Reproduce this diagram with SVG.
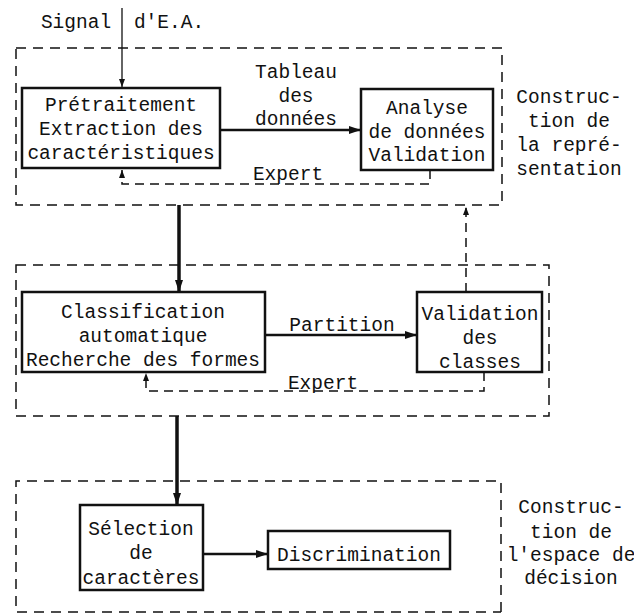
<svg xmlns="http://www.w3.org/2000/svg" width="634" height="615" viewBox="0 0 634 615">
<style>
text{font-family:"Liberation Mono","Courier New",monospace;font-size:19.5px;fill:#111;text-anchor:middle}
.box{fill:none;stroke:#111;stroke-width:2.5}
.grp{fill:none;stroke:#111;stroke-width:1.5;stroke-dasharray:10 7}
.fb{fill:none;stroke:#111;stroke-width:1.5;stroke-dasharray:9 6}
.thin{fill:none;stroke:#111;stroke-width:1.3}
.thick{fill:none;stroke:#111;stroke-width:2.5}
.vthick{fill:none;stroke:#111;stroke-width:3.5}
</style>
<defs>
<marker id="ah" markerWidth="12" markerHeight="8" refX="11" refY="4" orient="auto" markerUnits="userSpaceOnUse"><path d="M0,0 L12,4 L0,8 Z" fill="#111"/></marker>
<marker id="as" markerWidth="8" markerHeight="8" refX="8" refY="3" orient="auto" markerUnits="userSpaceOnUse"><path d="M0,0 L8,3 L0,6 Z" fill="#111"/></marker>
</defs>
<g id="groups">
<rect class="grp" x="16" y="48" width="486" height="157"/>
<rect class="grp" x="16" y="265" width="533" height="151"/>
<path class="grp" d="M501,612 L501,481 L16,481 L16,612 L501,612"/>
</g>
<g id="labels">
<text x="76" y="28">Signal</text>
<text x="169" y="28">d'E.A.</text>
<text x="296" y="78">Tableau</text>
<text x="296" y="102">des</text>
<text x="296" y="125">données</text>
<text x="288" y="180">Expert</text>
<text x="569" y="103">Construc-</text>
<text x="569" y="127">tion de</text>
<text x="569" y="151">la repré-</text>
<text x="569" y="175">sentation</text>
<text x="342" y="331">Partition</text>
<text x="323" y="389">Expert</text>
<text x="571" y="513">Construc-</text>
<text x="571" y="538">tion de</text>
<text x="571" y="561">l'espace de</text>
<text x="571" y="584">décision</text>
</g>
<g id="connectors">
<path class="thin" d="M122,8 L122,87" marker-end="url(#as)"/>
<path class="thick" d="M220,130 L360,130" marker-end="url(#ah)"/>
<path class="fb" d="M430,170 L430,184 L122,184 L122,170" marker-end="url(#as)"/>
<path class="vthick" d="M179,205 L179,291" marker-end="url(#ah)"/>
<path class="thick" d="M265,335 L416,335" marker-end="url(#ah)"/>
<path class="fb" d="M484,372 L484,391 L146,391 L146,373" marker-end="url(#as)"/>
<path class="fb" d="M466,292 L466,207" marker-end="url(#as)"/>
<path class="vthick" d="M177,416 L177,504" marker-end="url(#ah)"/>
<path class="thick" d="M203,554 L267,554" marker-end="url(#ah)"/>
</g>
<g id="pretraitement">
<rect class="box" x="22" y="88" width="198" height="80"/>
<text x="121" y="111">Prétraitement</text>
<text x="121" y="135">Extraction des</text>
<text x="121" y="159">caractéristiques</text>
</g>
<g id="analyse">
<rect class="box" x="361" y="89" width="132" height="81"/>
<text x="427" y="114">Analyse</text>
<text x="427" y="138">de données</text>
<text x="427" y="161">Validation</text>
</g>
<g id="classification">
<rect class="box" x="22" y="292" width="243" height="80"/>
<text x="143" y="318">Classification</text>
<text x="143" y="342">automatique</text>
<text x="143" y="366">Recherche des formes</text>
</g>
<g id="validation">
<rect class="box" x="417" y="292" width="125" height="80"/>
<text x="480" y="320">Validation</text>
<text x="480" y="344">des</text>
<text x="480" y="368">classes</text>
</g>
<g id="selection">
<rect class="box" x="80" y="505" width="123" height="85"/>
<text x="141" y="535">Sélection</text>
<text x="141" y="559">de</text>
<text x="141" y="584">caractères</text>
</g>
<g id="discrimination">
<rect class="box" x="268" y="531" width="182" height="38"/>
<text x="359" y="561">Discrimination</text>
</g>
</svg>
